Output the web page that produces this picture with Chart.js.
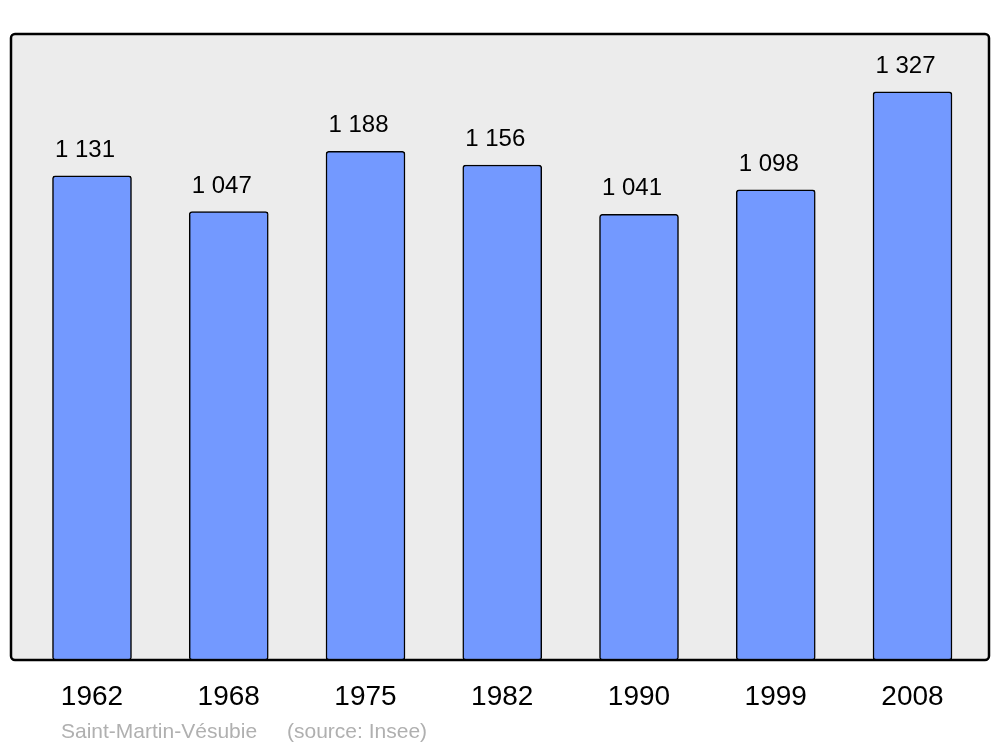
<!DOCTYPE html>
<html>
<head>
<meta charset="utf-8">
<script src="https://cdn.jsdelivr.net/npm/chart.js@4"></script>
<style>
  body { margin: 0; background: #fff; }
</style>
</head>
<body>
<canvas id="popChart" width="1000" height="747"></canvas>
<script>
const years = ['1962', '1968', '1975', '1982', '1990', '1999', '2008'];
const population = [1131, 1047, 1188, 1156, 1041, 1098, 1327];
const commune = 'Saint-Martin-Vésubie';
const source = '(source: Insee)';

const fmt = (n) => String(n).replace(/\B(?=(\d{3})+(?!\d))/g, ' ');

// grey frame behind the bars
const framePlugin = {
  id: 'frame',
  beforeDatasetsDraw(chart) {
    const { ctx, chartArea: a } = chart;
    ctx.save();
    ctx.beginPath();
    ctx.roundRect(a.left, a.top, a.right - a.left, a.bottom - a.top, 4);
    ctx.fillStyle = '#ececec';
    ctx.fill();
    ctx.lineWidth = 2.5;
    ctx.strokeStyle = '#000';
    ctx.stroke();
    ctx.restore();
  },
};

const labelsPlugin = {
  id: 'valueLabels',
  afterDatasetsDraw(chart) {
    const { ctx } = chart;
    const meta = chart.getDatasetMeta(0);
    ctx.save();
    ctx.font = '24px "Liberation Sans", Arial, sans-serif';
    ctx.fillStyle = '#000';
    ctx.textAlign = 'center';
    ctx.textBaseline = 'alphabetic';
    meta.data.forEach((bar, i) => {
      ctx.fillText(fmt(population[i]), bar.x - 7, bar.y - 19);
    });
    // footer
    ctx.font = '21px "Liberation Sans", Arial, sans-serif';
    ctx.fillStyle = '#b0b0b0';
    ctx.textAlign = 'left';
    ctx.fillText(commune, 61, 738);
    ctx.fillText(source, 287, 738);
    ctx.restore();
  },
};

const ctx = document.getElementById('popChart').getContext('2d');
// eslint-disable-next-line no-undef, no-unused-vars
const chart = new Chart(ctx, {
  type: 'bar',
  data: {
    datasets: [{
      data: population.map((v, i) => ({ x: i, y: v })),
      backgroundColor: '#7399ff',
      borderColor: '#000',
      borderWidth: 1.5,
      borderRadius: 3,
      borderSkipped: false,
      barThickness: 79,
    }],
  },
  options: {
    responsive: false,
    animation: false,
    layout: { padding: { top: 34, left: 11, right: 11, bottom: 0 } },
    plugins: { legend: { display: false }, tooltip: { enabled: false } },
    scales: {
      x: {
        type: 'linear',
        offset: false,
        min: -0.5923,
        max: 6.5594,
        grid: { display: false, drawTicks: false },
        border: { display: false },
        afterBuildTicks: (axis) => { axis.ticks = years.map((y, i) => ({ value: i })); },
        afterFit: (axis) => { axis.height = 87; },
        ticks: {
          autoSkip: false,
          maxRotation: 0,
          padding: 20,
          color: '#000',
          font: { size: 28, family: '"Liberation Sans", Arial, sans-serif' },
          callback: (v) => years[v],
        },
      },
      y: {
        display: false,
        min: 0,
        max: 1462,
      },
    },
  },
  plugins: [framePlugin, labelsPlugin],
});
</script>
</body>
</html>
